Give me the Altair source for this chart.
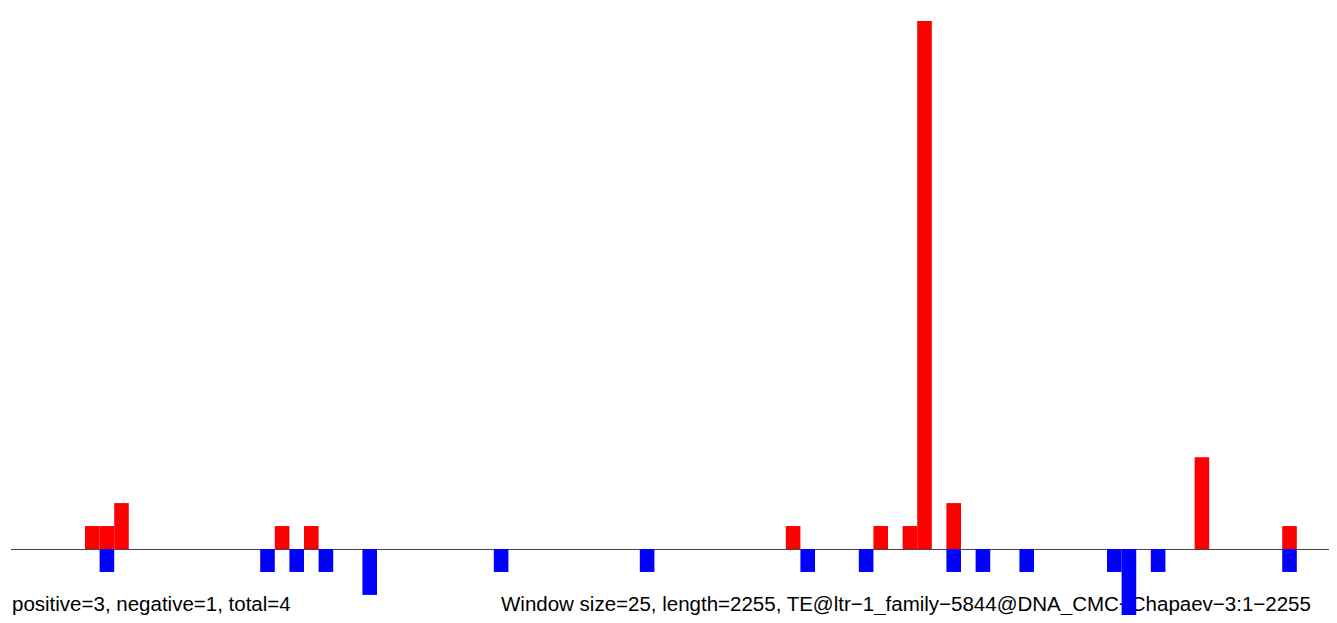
import altair as alt
import pandas as pd

WINDOW = 25
LENGTH = 2255

pos_bins = [5, 6, 7, 18, 20, 53, 59, 61, 62, 64, 81, 87]
pos_vals = [1, 1, 2, 1, 1, 1, 1, 1, 23, 2, 4, 1]
neg_bins = [6, 17, 19, 21, 24, 33, 43, 54, 58, 64, 66, 69, 75, 76, 78, 87]
neg_vals = [-1, -1, -1, -1, -2, -1, -1, -1, -1, -1, -1, -1, -1, -3, -1, -1]

left_label = "positive=3, negative=1, total=4"
right_label = ("Window size=25, length=2255, "
               "TE@ltr\u22121_family\u22125844@DNA_CMC\u2212Chapaev\u22123:1\u22122255")

rows = []
for b, v in zip(pos_bins, pos_vals):
    rows.append({"start": b * WINDOW, "end": (b + 1) * WINDOW, "value": v, "strand": "positive"})
for b, v in zip(neg_bins, neg_vals):
    rows.append({"start": b * WINDOW, "end": (b + 1) * WINDOW, "value": v, "strand": "negative"})
df = pd.DataFrame(rows)

W, H = 1317, 607
xscale = alt.Scale(domain=[0, 2255.1], nice=False, zero=False)
yscale = alt.Scale(domain=[-2.875, 23.566], nice=False, zero=False)

labels = pd.DataFrame({"label": [left_label, right_label], "px": [0, 489]})
text = alt.Chart(labels).mark_text(
    align="left", baseline="alphabetic", font="Liberation Sans", fontSize=20.5, color="black"
).encode(
    x=alt.X("px:Q", scale=None),
    y=alt.value(603),
    text="label:N",
)

bars = alt.Chart(df).mark_bar().encode(
    x=alt.X("start:Q", scale=xscale, axis=None),
    x2="end:Q",
    y=alt.Y("value:Q", scale=yscale, axis=None),
    y2=alt.datum(0),
    color=alt.Color("strand:N", scale=alt.Scale(domain=["positive", "negative"], range=["#FF0000", "#0000FF"]), legend=None),
)

base = alt.Chart(pd.DataFrame({"y": [0]})).mark_rule(color="#444444", strokeWidth=1, yOffset=0.5).encode(
    y=alt.Y("y:Q", scale=yscale, axis=None),
    x=alt.value(-1),
    x2=alt.value(1330),
)

chart = alt.layer(text, base, bars).properties(
    width=W, height=H,
    autosize=alt.AutoSizeParams(type="none"),
    padding={"left": 4, "top": 0, "right": 0, "bottom": 0},
).configure_view(stroke=None)

chart.save("out.html", embed_options={"renderer": "svg", "actions": False})
